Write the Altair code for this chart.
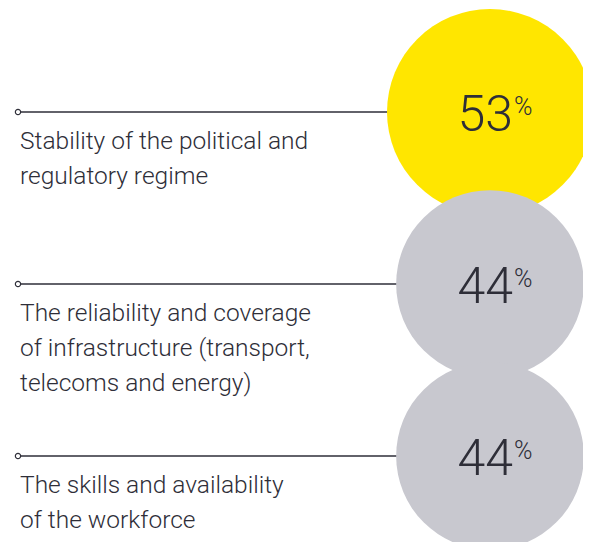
import altair as alt
import pandas as pd

factors = [
    "Stability of the political and\nregulatory regime",
    "The reliability and coverage\nof infrastructure (transport,\ntelecoms and energy)",
    "The skills and availability\nof the workforce",
]
shares = [53, 44, 44]
ranks = [0, 1, 2]

df = pd.DataFrame({"factor": factors, "share": shares, "rank": ranks})
df["num"] = df["share"].astype(str)

FONT = "Roboto"
INK = "#2e2e38"

y = alt.Y("rank:Q", scale=alt.Scale(domain=[0, 2], range=[104, 448]), axis=None)
base = alt.Chart(df).encode(y=y)

rule = base.mark_rule(color=INK, strokeWidth=1.3).encode(
    x=alt.value(10), x2=alt.value(482)
)
dot = base.mark_point(
    shape="circle", size=28, fill="white", fillOpacity=1,
    stroke=INK, strokeWidth=1.2, opacity=1
).encode(x=alt.value(10))

bubbles = base.mark_circle(opacity=1).encode(
    x=alt.value(482),
    size=alt.Size("share:Q", scale=alt.Scale(domain=[0, 53], range=[0, 42436]), legend=None),
    color=alt.condition("datum.rank == 0", alt.value("#FFE600"), alt.value("#C8C8CF")),
)

nums = base.mark_text(
    align="right", baseline="alphabetic", font=FONT, fontWeight=300,
    fontSize=50, color=INK, dy=19
).encode(x=alt.value(505), text="num:N")

pct = base.mark_text(
    align="left", baseline="alphabetic", font=FONT, fontWeight=300,
    fontSize=25, color=INK, dy=3
).encode(x=alt.value(506), text=alt.value("%"))

labels = base.mark_text(
    align="left", baseline="alphabetic", font=FONT, fontWeight=300,
    fontSize=24.5, lineHeight=35, lineBreak="\n", color=INK, dy=37
).encode(x=alt.value(12), text="factor:N")

chart = alt.layer(rule, dot, bubbles, nums, pct, labels).properties(
    width=575, height=534, autosize=alt.AutoSizeParams(type="none"), padding=0,
    background="white"
).configure_view(stroke=None)

chart.save("out.html", embed_options={"renderer": "svg", "actions": False})
